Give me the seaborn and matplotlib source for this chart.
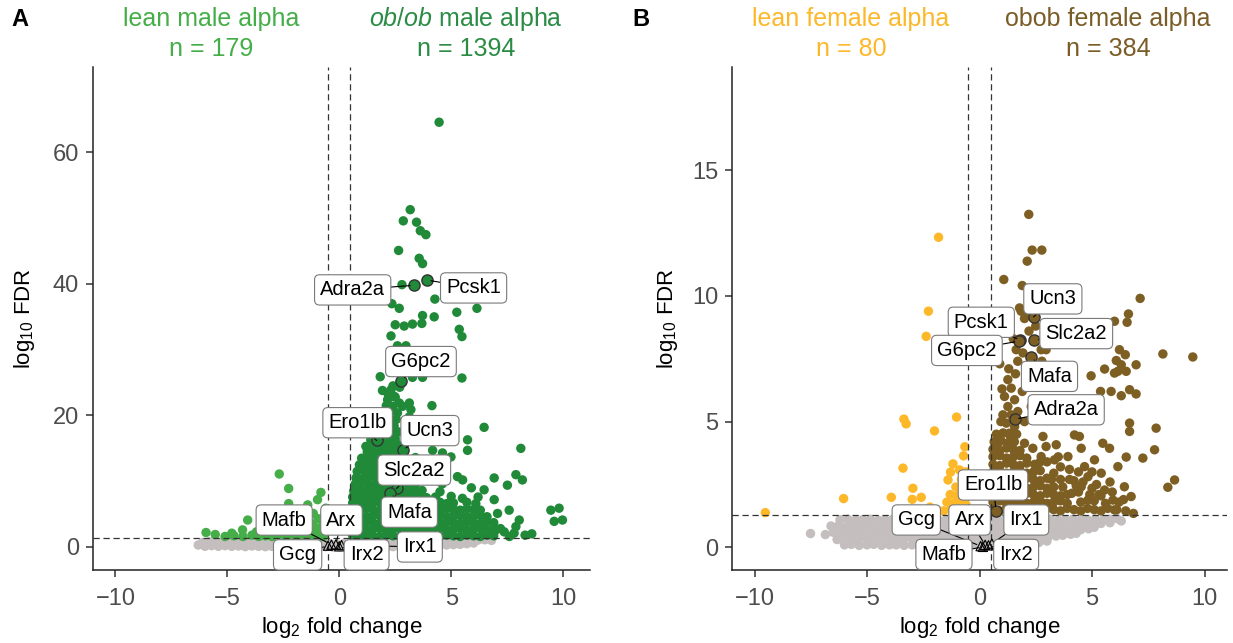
import matplotlib
matplotlib.use("Agg")
import matplotlib.pyplot as plt
import pandas as pd
import seaborn as sns

# ---------------------------------------------------------------- data
# Panel A : male alpha cells  (log2 fold change, log10 FDR)
male_ns = [
    (-6.3,0.3),(-6.0,0.1),(-5.7,0.2),(-5.4,0.1),(-5.1,0.2),(-4.8,0.1),(-4.5,0.15),(-4.2,0.05),
    (-3.9,0.15),(-3.6,0.1),(-3.3,0.05),(-3.0,0.1),(-2.7,0.05),(-2.4,0.1),(-2.1,0.0),(-1.8,0.05),
    (-1.5,0.0),(-1.2,0.05),(-0.9,0.0),(-0.6,0.05),(-0.3,0.0),(0.0,0.0),(0.3,0.05),(0.6,0.0),
    (0.9,0.05),(1.2,0.0),(1.5,0.05),(1.8,0.0),(2.1,0.1),(2.4,0.05),(2.7,0.1),(3.0,0.05),
    (3.3,0.15),(3.6,0.1),(3.9,0.2),(4.2,0.15),(4.5,0.25),(4.8,0.3),(5.1,0.35),(5.4,0.4),
    (5.7,0.5),(6.0,0.6),
    (-6.1,0.7),(-5.8,0.8),(-5.5,0.75),(-5.2,0.85),(-4.9,0.8),(-4.6,0.9),(-4.3,0.8),(-4.0,0.85),
    (-3.7,0.8),(-3.4,0.9),(-3.1,0.8),(-2.8,0.85),(-2.5,0.8),(-2.2,0.9),(-1.9,0.75),(-1.6,0.85),
    (-1.3,0.8),(-1.0,0.7),(-0.7,0.6),(-0.4,0.5),(-0.1,0.4),(0.2,0.5),(0.5,0.6),(0.8,0.7),
    (1.1,0.8),(1.4,0.85),(1.7,0.8),(2.0,0.9),(2.3,0.8),(2.6,0.85),(2.9,0.9),(3.2,0.8),
    (3.5,0.9),(3.8,0.85),(4.1,0.9),(4.4,0.95),(4.7,0.9),(5.0,1.0),(5.3,0.95),(5.6,1.0),
    (5.9,1.0),(6.2,1.05),(6.5,1.1),(6.8,1.0),
]
male_lean = [
    (-5.95,2.2),(-5.54,1.9),(-5.1,1.6),(-4.8,2.1),(-4.7,1.7),(-4.32,2.6),(-4.09,4.1),(-4.3,1.6),
    (-3.9,1.8),(-3.7,2.3),(-3.6,1.6),(-3.42,2.1),(-3.3,1.7),(-3.05,2.6),(-3.0,1.6),(-2.7,1.8),
    (-2.68,11.1),(-2.5,2.2),(-2.4,1.6),(-2.26,8.9),(-2.26,6.6),(-2.1,1.8),(-2.08,3.5),(-2.0,2.3),
    (-1.8,1.6),(-1.8,2.6),(-1.64,4.4),(-1.5,1.9),(-1.5,3.2),(-1.41,6.4),(-1.4,2.3),(-1.2,1.6),
    (-1.2,2.5),(-1.2,3.5),(-1.16,5.1),(-0.97,7.2),(-0.95,4.3),(-0.9,1.9),(-0.9,2.9),(-0.82,8.3),
    (-0.7,1.6),(-0.65,2.4),(-0.7,3.6),(-0.65,4.8),(-0.6,5.9),
]
male_obob_sparse = [
    (4.46,64.6),(3.17,51.3),(2.86,49.6),(3.45,49.4),(3.62,48.1),(3.87,47.5),(2.65,45.1),(3.57,43.9),
    (3.72,43.1),(2.8,39.9),(4.27,37.7),(5.25,35.7),(6.15,36.3),(2.35,37.0),(2.68,36.3),(3.72,35.2),
    (4.24,35.0),(2.5,33.8),(2.9,33.6),(3.27,33.9),(3.69,34.0),(5.36,33.1),(5.48,32.0),(2.31,32.1),
    (2.6,30.6),(2.98,30.6),(3.13,29.6),(1.83,25.9),(5.48,25.7),(1.93,23.8),(2.31,23.9),(3.27,25.8),
    (3.72,25.8),(2.16,22.4),(2.46,22.9),(2.68,21.9),(3.13,21.9),(2.83,21.4),(3.2,20.9),(4.14,21.5),
    (3.13,19.8),(3.5,19.3),(6.47,18.2),(5.73,16.3),(5.73,14.7),(8.11,15.0),(4.99,13.7),(1.19,15.3),
    (1.41,16.3),(1.09,13.3),(4.17,14.7),(4.61,14.3),(5.28,10.7),(5.51,10.2),(6.47,8.7),(6.92,10.5),
    (7.51,9.4),(7.89,11.0),(8.18,10.2),(6.92,7.2),(7.07,5.1),(7.59,5.6),(8.04,4.1),(7.89,3.1),
    (7.0,2.6),(7.37,2.3),(7.81,2.1),(9.45,5.6),(9.82,5.9),(9.6,3.9),(9.97,4.1),(8.6,2.0),
    (8.3,1.8),(7.6,1.6),(3.9,12.5),(3.6,16.8),(2.9,27.5),(2.4,28.2),(3.0,18.0),(3.4,13.6),
    (4.1,10.9),(4.6,9.6),(5.9,9.0),(6.2,7.6),
]
male_obob_core = [
    (0.6,1.7),(0.9,1.6),(1.2,1.8),(1.5,1.7),(1.8,1.6),(2.1,1.8),(2.4,1.7),(2.7,1.6),(3.0,1.8),
    (3.3,1.7),(3.6,1.6),(3.9,1.8),(4.2,1.7),(4.5,1.6),(4.8,1.8),(5.1,1.7),(5.4,1.6),(5.7,1.8),
    (6.0,1.7),(6.3,1.6),(6.6,1.8),(6.9,1.7),
    (0.6,2.7),(0.9,2.8),(1.2,2.6),(1.5,2.7),(1.8,2.8),(2.1,2.6),(2.4,2.7),(2.7,2.8),(3.0,2.6),
    (3.3,2.7),(3.6,2.8),(3.9,2.6),(4.2,2.7),(4.5,2.8),(4.8,2.6),(5.1,2.7),(5.4,2.8),(5.7,2.6),
    (6.0,2.7),(6.3,2.8),(6.6,2.6),(6.9,2.7),(7.2,2.8),
    (0.6,3.7),(0.9,3.6),(1.2,3.8),(1.5,3.7),(1.8,3.6),(2.1,3.8),(2.4,3.7),(2.7,3.6),(3.0,3.8),
    (3.3,3.7),(3.6,3.6),(3.9,3.8),(4.2,3.7),(4.5,3.6),(4.8,3.8),(5.1,3.7),(5.4,3.6),(5.7,3.8),
    (6.0,3.7),(6.3,3.6),(6.6,3.8),(6.9,3.7),
    (0.6,4.7),(0.9,4.8),(1.2,4.6),(1.5,4.7),(1.8,4.8),(2.1,4.6),(2.4,4.7),(2.7,4.8),(3.0,4.6),
    (3.3,4.7),(3.6,4.8),(3.9,4.6),(4.2,4.7),(4.5,4.8),(4.8,4.6),(5.1,4.7),(5.4,4.8),(5.7,4.6),
    (6.0,4.7),(6.3,4.8),(6.6,4.6),
    (0.6,5.7),(0.9,5.6),(1.2,5.8),(1.5,5.7),(1.8,5.6),(2.1,5.8),(2.4,5.7),(2.7,5.6),(3.0,5.8),
    (3.3,5.7),(3.6,5.6),(3.9,5.8),(4.2,5.7),(4.5,5.6),(4.8,5.8),(5.1,5.7),(5.4,5.6),(5.7,5.8),
    (6.0,5.7),(6.3,5.6),
    (0.6,6.7),(0.9,6.8),(1.2,6.6),(1.5,6.7),(1.8,6.8),(2.1,6.6),(2.4,6.7),(2.7,6.8),(3.0,6.6),
    (3.3,6.7),(3.6,6.8),(3.9,6.6),(4.2,6.7),(4.5,6.8),(4.8,6.6),(5.1,6.7),(5.7,6.8),(6.1,6.6),
    (0.6,7.6),(0.9,7.7),(1.2,7.5),(1.5,7.6),(1.8,7.7),(2.1,7.5),(2.4,7.6),(2.7,7.7),(3.0,7.5),
    (3.3,7.6),(3.6,7.7),(3.9,7.5),(4.3,7.6),(5.0,7.7),(5.5,7.4),
    (0.65,8.5),(0.95,8.6),(1.25,8.4),(1.55,8.5),(1.85,8.6),(2.15,8.4),(2.45,8.5),(2.75,8.6),
    (3.05,8.4),(3.35,8.5),(3.7,8.6),(4.5,8.4),
    (0.7,9.5),(1.0,9.6),(1.3,9.4),(1.6,9.5),(1.9,9.6),(2.2,9.4),(2.5,9.5),(2.8,9.6),(3.1,9.4),(3.4,9.5),
    (0.75,10.5),(1.05,10.4),(1.35,10.6),(1.65,10.5),(1.95,10.4),(2.25,10.6),(2.55,10.5),(2.85,10.4),(3.15,10.6),
    (0.8,11.5),(1.1,11.6),(1.4,11.4),(1.7,11.5),(2.0,11.6),(2.3,11.4),(2.6,11.5),(2.95,11.6),
    (0.9,12.5),(1.2,12.4),(1.5,12.6),(1.8,12.5),(2.1,12.4),(2.4,12.6),(2.7,12.5),
    (1.0,13.5),(1.3,13.6),(1.6,13.4),(1.9,13.5),(2.2,13.6),(2.5,13.4),(2.8,13.5),
    (1.25,14.5),(1.55,14.4),(1.85,14.6),(2.15,14.5),(2.45,14.4),(2.7,14.6),
    (1.45,15.5),(1.75,15.6),(2.05,15.4),(2.35,15.5),(2.6,15.6),
    (1.6,16.5),(1.9,16.4),(2.2,16.6),(2.5,16.5),
    (1.75,17.5),(2.05,17.6),(2.35,17.4),(2.65,17.5),
    (1.85,18.5),(2.15,18.6),(2.45,18.4),
    (1.95,19.5),(2.25,19.6),(2.55,19.4),
    (2.0,20.5),(2.3,20.6),(2.6,20.4),
    (2.1,21.5),(2.4,21.4),(2.2,23.0),(2.5,22.8),(2.4,24.5),(2.7,24.3),
]

# Panel B : female alpha cells
female_ns = [
    (-7.51,0.55),(-6.85,0.51),(-6.33,0.31),
    (-6.0,0.1),(-5.7,0.12),(-5.35,0.08),(-5.0,0.1),(-4.7,0.12),(-4.35,0.08),(-4.0,0.1),(-3.7,0.1),
    (-3.35,0.08),(-3.0,0.1),(-2.7,0.12),(-2.35,0.08),(-2.0,0.1),(-1.7,0.1),(-1.35,0.08),(-1.0,0.1),
    (-0.7,0.08),(-0.35,0.1),(0.0,0.08),(0.3,0.1),(0.65,0.12),(1.0,0.1),(1.3,0.12),(1.65,0.1),
    (2.0,0.14),(2.3,0.16),(2.65,0.2),(3.0,0.25),
    (-6.3,0.35),(-5.95,0.38),(-5.6,0.33),(-5.3,0.36),(-4.95,0.35),(-4.6,0.38),(-4.3,0.33),(-3.95,0.36),
    (-3.6,0.35),(-3.3,0.38),(-2.95,0.33),(-2.6,0.36),(-2.3,0.35),(-1.95,0.38),(-1.6,0.33),(-1.3,0.36),
    (-0.95,0.35),(-0.6,0.38),(-0.3,0.33),(0.05,0.36),(0.4,0.35),(0.7,0.38),(1.05,0.33),(1.4,0.36),
    (1.7,0.35),(2.05,0.38),(2.4,0.36),(2.7,0.4),(3.05,0.42),(3.4,0.45),(3.7,0.48),(4.05,0.52),(4.3,0.56),
    (-6.5,0.6),(-6.15,0.62),(-5.8,0.58),(-5.5,0.6),(-5.15,0.62),(-4.8,0.58),(-4.5,0.6),(-4.15,0.62),
    (-3.8,0.58),(-3.5,0.6),(-3.15,0.62),(-2.8,0.58),(-2.5,0.6),(-2.15,0.62),(-1.8,0.58),(-1.5,0.6),
    (-1.15,0.62),(-0.8,0.58),(-0.5,0.6),(-0.15,0.62),(0.2,0.58),(0.5,0.6),(0.85,0.62),(1.2,0.58),
    (1.5,0.6),(1.85,0.62),(2.2,0.58),(2.5,0.6),(2.85,0.62),(3.2,0.6),(3.5,0.62),(3.85,0.64),
    (4.2,0.66),(4.5,0.7),(4.85,0.74),(5.1,0.8),
    (-6.6,0.85),(-6.25,0.88),(-5.9,0.83),(-5.6,0.86),(-5.25,0.85),(-4.9,0.88),(-4.6,0.83),(-4.25,0.86),
    (-3.9,0.85),(-3.6,0.88),(-3.25,0.83),(-2.9,0.86),(-2.6,0.85),(-2.25,0.88),(-1.9,0.83),(-1.6,0.86),
    (-1.25,0.85),(-0.9,0.88),(-0.6,0.83),(-0.25,0.86),(0.1,0.85),(0.4,0.88),(0.75,0.83),(1.1,0.86),
    (1.4,0.85),(1.75,0.88),(2.1,0.83),(2.4,0.86),(2.75,0.85),(3.1,0.88),(3.4,0.83),(3.75,0.86),
    (4.1,0.85),(4.4,0.88),(4.75,0.9),(5.1,0.92),(5.4,0.95),(5.8,0.98),
    (-6.2,1.1),(-5.85,1.12),(-5.5,1.08),(-5.2,1.1),(-4.85,1.12),(-4.5,1.08),(-4.2,1.1),(-3.85,1.12),
    (-3.5,1.08),(-3.2,1.1),(-2.85,1.12),(-2.5,1.08),(-2.2,1.1),(-1.85,1.12),(-1.5,1.08),(-1.2,1.1),
    (-0.85,1.12),(-0.5,1.08),(-0.2,1.1),(0.15,1.12),(0.5,1.08),(0.8,1.1),(1.15,1.12),(1.5,1.08),
    (1.8,1.1),(2.15,1.12),(2.5,1.08),(2.8,1.1),(3.15,1.12),(3.5,1.08),(3.8,1.1),(4.15,1.12),
    (4.5,1.08),(4.8,1.1),(5.15,1.12),(5.5,1.1),(5.8,1.12),(6.1,1.15),(6.3,1.05),
]
female_lean = [
    (-1.82,12.33),(-2.27,9.39),(-2.37,8.39),(-3.36,5.1),(-3.26,4.91),(-1.02,5.18),(-2.0,4.63),
    (-0.71,3.64),(-1.18,3.32),(-1.29,2.99),(-1.4,2.68),(-0.89,3.08),(-3.4,3.15),(-2.96,2.35),
    (-2.59,1.99),(-2.99,1.91),(-3.92,1.99),(-6.04,1.94),(-9.52,1.38),
    (-1.9,1.5),(-1.6,1.45),(-1.3,1.5),(-1.0,1.45),(-0.7,1.5),(-1.45,1.8),(-1.15,1.75),(-0.85,1.8),
    (-0.6,1.7),(-1.3,2.1),(-1.0,2.05),(-0.7,2.1),(-0.6,2.4),(-1.05,2.4),(-0.8,2.7),(-0.6,3.0),
    (-2.2,1.6),(-0.65,4.0),
]
female_obob_sparse = [
    (2.19,13.24),(2.34,11.82),(2.77,11.82),(2.12,11.38),(1.08,10.65),(1.9,10.41),(7.14,9.9),
    (6.62,9.28),(6.0,8.99),(1.85,9.39),(1.78,9.52),(2.08,9.32),(2.0,9.1),(6.56,8.95),(8.15,7.69),
    (9.48,7.57),(6.22,7.86),(6.48,7.66),(6.08,7.43),(6.3,7.26),(6.52,7.0),(6.96,7.26),(6.15,7.0),
    (5.56,7.09),(6.0,6.93),(4.96,6.82),(5.38,6.2),(5.85,6.2),(6.3,6.03),(6.67,6.27),(6.96,6.1),
    (6.67,4.94),(6.67,4.61),(7.85,4.74),(7.78,3.88),(7.26,3.55),(6.52,3.59),(8.67,2.68),(8.37,2.39),
    (6.84,1.35),(4.22,4.47),(4.44,4.41),(3.41,4.08),(2.82,4.41),(2.96,4.01),(4.52,3.94),(2.37,3.94),
    (2.0,4.14),(2.74,3.61),(3.33,3.48),(3.93,3.61),(4.67,3.21),(5.11,3.48),(5.48,4.14),(5.78,3.94),
    (6.15,3.21),(5.41,2.95),(4.82,2.81),(4.52,2.41),(5.56,2.28),(5.93,1.88),(6.44,2.41),(6.74,2.02),
    (4.82,1.88),(6.0,1.49),(1.63,7.86),(1.93,7.73),(1.7,7.4),(2.74,7.86),(2.96,7.86),(2.77,7.4),
    (2.2,8.6),(2.5,8.8),(1.5,8.3),(2.2,7.0),(2.5,6.5),(1.9,6.2),(2.3,5.6),(2.0,5.0),
    (3.9,2.1),(4.4,2.2),(3.7,2.4),(4.0,2.7),(4.6,2.6),(5.2,2.5),(5.8,2.6),(5.3,2.1),(5.9,2.2),
    (6.1,1.5),(4.0,3.1),(3.6,3.2),(4.4,3.0),(5.0,3.0),(3.2,2.7),(3.5,3.6),(3.0,3.4),(2.7,3.4),
    (6.4,1.9),(6.5,1.45),
]
female_obob_core = [
    (0.6,1.5),(0.9,1.45),(1.2,1.55),(1.5,1.5),(1.8,1.45),(2.1,1.55),(2.4,1.5),(2.7,1.45),(3.0,1.55),
    (3.3,1.5),(3.6,1.45),(3.9,1.55),(4.2,1.5),(4.5,1.45),(4.8,1.55),(5.1,1.5),(5.4,1.45),(5.7,1.55),
    (0.6,1.8),(0.9,1.85),(1.2,1.75),(1.5,1.8),(1.8,1.85),(2.1,1.75),(2.4,1.8),(2.7,1.85),(3.0,1.75),
    (3.3,1.8),(3.6,1.85),(3.9,1.75),(4.5,1.8),(5.1,1.85),(5.6,1.75),(6.2,1.8),
    (0.6,2.1),(0.9,2.05),(1.2,2.15),(1.5,2.1),(1.8,2.05),(2.1,2.15),(2.4,2.1),(2.7,2.05),(3.0,2.15),
    (3.3,2.1),(3.6,2.05),(4.1,2.15),(4.9,2.1),(5.4,2.05),
    (0.6,2.4),(0.9,2.45),(1.2,2.35),(1.5,2.4),(1.8,2.45),(2.1,2.35),(2.4,2.4),(2.7,2.45),(3.0,2.35),
    (3.3,2.4),(4.3,2.45),(5.0,2.35),
    (0.6,2.7),(0.9,2.65),(1.2,2.75),(1.5,2.7),(1.8,2.65),(2.1,2.75),(2.4,2.7),(2.7,2.65),(3.0,2.75),
    (3.6,2.7),(4.2,2.65),
    (0.6,3.0),(0.9,3.05),(1.2,2.95),(1.5,3.0),(1.8,3.05),(2.1,2.95),(2.4,3.0),(2.7,3.05),(3.3,2.95),
    (0.6,3.3),(0.9,3.25),(1.2,3.35),(1.5,3.3),(1.8,3.25),(2.1,3.35),(2.45,3.3),
    (0.6,3.6),(0.9,3.65),(1.2,3.55),(1.5,3.6),(1.8,3.65),(2.1,3.55),
    (0.6,3.9),(0.9,3.85),(1.2,3.95),(1.5,3.9),(1.8,3.85),
    (0.65,4.2),(0.95,4.25),(1.25,4.15),(1.55,4.2),
    (0.75,4.5),(1.05,4.55),(1.35,4.45),(1.65,4.5),
    (1.26,6.67),(1.41,6.33),(1.11,6.0),(1.56,5.87),(1.26,5.6),(1.04,5.27),(1.41,5.27),(1.19,4.94),
    (1.56,4.8),(1.33,4.54),(0.82,4.14),(0.67,3.74),(0.95,5.0),(1.7,5.4),(1.0,6.3),(1.6,6.9),
    (1.3,7.1),(0.9,7.3),
]

# highlighted genes
genes = ["Pcsk1", "Adra2a", "G6pc2", "Ero1lb", "Ucn3", "Slc2a2", "Mafa",
         "Gcg", "Arx", "Mafb", "Irx1", "Irx2"]
gene_significant = [True, True, True, True, True, True, True,
                    False, False, False, False, False]
male_gene_lfc = [3.91, 3.35, 2.78, 1.67, 2.83, 2.56, 2.28, -0.5, -0.15, -0.35, 0.1, 0.0]
male_gene_lfdr = [40.6, 39.8, 25.3, 16.2, 14.7, 8.9, 8.2, 0.2, 0.4, 0.35, 0.3, 0.1]
female_gene_lfc = [1.82, 1.56, 1.75, 0.74, 2.4, 2.44, 2.3, 0.05, 0.25, 0.15, 0.55, 0.4]
female_gene_lfdr = [8.23, 5.1, 8.2, 1.46, 9.16, 8.23, 7.57, 0.05, 0.1, 0.02, 0.15, 0.08]

# label placement (layout, data coordinates of box centres)
male_label_pos = [(6.0, 39.4), (0.6, 39.1), (3.65, 28.2), (0.82, 18.9), (4.05, 17.7),
                  (3.35, 11.7), (3.13, 5.3), (-1.86, -1.2), (0.1, 4.1), (-2.46, 4.1),
                  (3.6, 0.0), (1.22, -1.2)]
female_label_pos = [(0.08, 8.95), (3.85, 5.47), (-0.56, 7.83), (0.6, 2.48), (3.26, 9.88),
                    (4.3, 8.5), (3.11, 6.8), (-2.81, 1.09), (-0.44, 1.09), (-1.58, -0.28),
                    (2.08, 1.09), (1.63, -0.28)]

male_counts = {"lean": 179, "obob": 1394}
female_counts = {"lean": 80, "obob": 384}

# ---------------------------------------------------------------- style
GREY = "#C4BEBE"
LEAN_M, OBOB_M = "#45AE48", "#208A38"
LEAN_F, OBOB_F = "#FDB82A", "#7E5F23"

sns.set_theme(style="white")
plt.rcParams["font.family"] = ["Liberation Sans", "DejaVu Sans"]
plt.rcParams["mathtext.fontset"] = "custom"
plt.rcParams["mathtext.rm"] = "Liberation Sans"
plt.rcParams["mathtext.it"] = "Liberation Sans:italic"

W, H = 1233, 643
fig = plt.figure(figsize=(W / 100, H / 100), dpi=100)
axA = fig.add_axes([93 / W, (H - 570) / H, 497 / W, 503 / H])
axB = fig.add_axes([732 / W, (H - 570) / H, 495 / W, 503 / H])

PT = 46  # marker area


def make_df(ns, lean, obob_list):
    rows = [(x, y, "ns") for x, y in ns]
    rows += [(x, y, "lean") for x, y in lean]
    for lst in obob_list:
        rows += [(x, y, "obob") for x, y in lst]
    return pd.DataFrame(rows, columns=["lfc", "lfdr", "grp"])


def draw_panel(ax, df, c_lean, c_obob, glfc, glfdr, lpos, xlim, ylim, yticks):
    sns.scatterplot(data=df, x="lfc", y="lfdr", hue="grp",
                    palette={"ns": GREY, "lean": c_lean, "obob": c_obob},
                    s=PT, linewidth=0, legend=False, ax=ax, zorder=1)
    dash = (0, (5, 3))
    for xv in (-0.5, 0.5):
        ax.axvline(xv, color="#333333", lw=0.9, ls=dash, zorder=2)
    ax.axhline(1.3, color="#333333", lw=0.9, ls=dash, zorder=2)

    sig_x = [x for x, s in zip(glfc, gene_significant) if s]
    sig_y = [y for y, s in zip(glfdr, gene_significant) if s]
    ns_x = [x for x, s in zip(glfc, gene_significant) if not s]
    ns_y = [y for y, s in zip(glfdr, gene_significant) if not s]
    sns.scatterplot(x=sig_x, y=sig_y, color=c_obob, edgecolor="#333333",
                    linewidth=1.0, s=65, legend=False, ax=ax, zorder=3)
    ax.scatter(ns_x, ns_y, marker="^", facecolors="none", edgecolors="black",
               s=45, linewidths=0.8, zorder=3)

    for name, gx, gy, (lx, ly) in zip(genes, glfc, glfdr, lpos):
        ax.annotate(name, xy=(gx, gy), xytext=(lx, ly), ha="center", va="center",
                    fontsize=14.5, color="black", zorder=5,
                    bbox=dict(boxstyle="round,pad=0.28,rounding_size=0.25",
                              fc="white", ec="#7a7a7a", lw=0.8),
                    arrowprops=dict(arrowstyle="-", color="black", lw=0.8,
                                    shrinkA=0, shrinkB=3))

    ax.set_xlim(*xlim)
    ax.set_ylim(*ylim)
    ax.set_xticks([-10, -5, 0, 5, 10])
    ax.set_yticks(yticks)
    for sp in ("top", "right"):
        ax.spines[sp].set_visible(False)
    for sp in ("left", "bottom"):
        ax.spines[sp].set_color("#222222")
        ax.spines[sp].set_linewidth(1.1)
    ax.tick_params(axis="both", which="major", direction="out", length=5,
                   width=1.1, color="#333333", labelsize=17, labelcolor="#4D4D4D",
                   bottom=True, left=True, pad=5)
    ax.tick_params(axis="x", pad=8)
    ax.set_xlabel(r"log$_{\mathrm{2}}$ fold change", fontsize=16, color="black")
    ax.set_ylabel(r"log$_{\mathrm{10}}$ FDR", fontsize=16, color="black")
    ax.xaxis.set_label_coords(0.5, -0.09)


dfA = make_df(male_ns, male_lean, [male_obob_core, male_obob_sparse])
dfB = make_df(female_ns, female_lean, [female_obob_core, female_obob_sparse])

draw_panel(axA, dfA, LEAN_M, OBOB_M, male_gene_lfc, male_gene_lfdr, male_label_pos,
           (-11.0, 11.2), (-3.5, 73.0), [0, 20, 40, 60])
axA.yaxis.set_label_coords(-0.113, 0.5)
draw_panel(axB, dfB, LEAN_F, OBOB_F, female_gene_lfc, female_gene_lfdr, female_label_pos,
           (-11.0, 11.0), (-0.9, 19.1), [0, 5, 10, 15])
axB.yaxis.set_label_coords(-0.105, 0.5)

# headers
def ftxt(px, py, s, **kw):
    fig.text(px / W, 1 - py / H, s, ha="center", va="center", **kw)

ftxt(20, 19, "A", fontsize=17, fontweight="bold", color="black")
ftxt(641, 19, "B", fontsize=17, fontweight="bold", color="black")
ftxt(211, 19, "lean male alpha", fontsize=18, color=LEAN_M)
ftxt(211, 49, f"n = {male_counts['lean']}", fontsize=18, color=LEAN_M)
ftxt(466, 19, r"$\mathit{ob/ob}$ male alpha", fontsize=18, color="#2B8C45")
ftxt(466, 49, f"n = {male_counts['obob']}", fontsize=18, color="#2B8C45")
ftxt(851, 19, "lean female alpha", fontsize=18, color=LEAN_F)
ftxt(851, 49, f"n = {female_counts['lean']}", fontsize=18, color=LEAN_F)
ftxt(1108, 19, "obob female alpha", fontsize=18, color="#7A5C26")
ftxt(1108, 49, f"n = {female_counts['obob']}", fontsize=18, color="#7A5C26")

fig.savefig("out.png", dpi=100)
